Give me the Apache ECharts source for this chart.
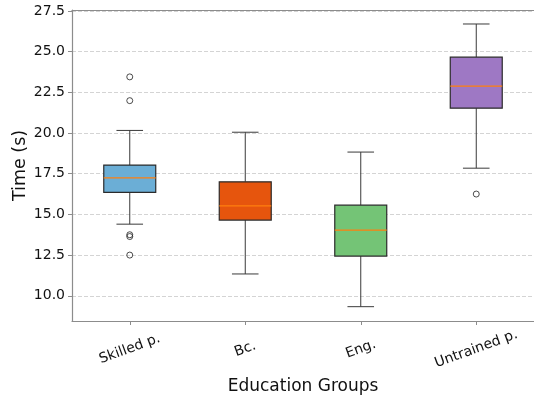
<!DOCTYPE html>
<html>
<head>
<meta charset="utf-8">
<script src="https://cdn.jsdelivr.net/npm/echarts@6/dist/echarts.min.js"></script>
<style>html,body{margin:0;padding:0;background:#fff}#c{width:534px;height:396px}</style>
</head>
<body>
<div id="c"></div>
<script>
const categories = ['Skilled p.', 'Bc.', 'Eng.', 'Untrained p.'];
const whiskerLow = [14.40, 11.34, 9.33, 17.84];
const q1 = [16.35, 14.65, 12.44, 21.53];
const median = [17.25, 15.53, 14.04, 22.88];
const q3 = [18.03, 17.00, 15.57, 24.66];
const whiskerHigh = [20.16, 20.05, 18.83, 26.70];
const outliers = [[0, 23.45], [0, 21.99], [0, 13.75], [0, 13.64], [0, 12.50], [3, 16.25]];
const yTicks = [10.0, 12.5, 15.0, 17.5, 20.0, 22.5, 25.0, 27.5];
const boxColors = ['#6baed6', '#e6550d', '#74c476', '#9e78c4'];

const boxData = categories.map((c, i) => [i, whiskerLow[i], q1[i], median[i], q3[i], whiskerHigh[i]]);
const FONT = 'DejaVu Sans';
const chart = echarts.init(document.getElementById('c'));
chart.setOption({
  animation: false,
  grid: { left: 72, right: 0, top: 10, bottom: 75, containLabel: false, outerBoundsMode: 'none' },
  xAxis: [{
    type: 'category', data: categories, position: 'bottom',
    axisLine: { show: true, lineStyle: { color: '#8c8c8c', width: 1.2 } },
    axisTick: { show: true, alignWithLabel: true, length: 4, lineStyle: { color: '#8c8c8c' } },
    axisLabel: { rotate: 20, align: 'center', verticalAlign: 'middle', margin: 28, fontFamily: FONT, fontSize: 14, color: '#111' },
    splitLine: { show: false },
    name: 'Education Groups', nameLocation: 'middle', nameGap: 66, nameMoveOverlap: false,
    nameTextStyle: { fontFamily: FONT, fontSize: 17, color: '#111', verticalAlign: 'middle' }
  }, {
    type: 'category', data: categories, position: 'top',
    axisLine: { show: true, lineStyle: { color: '#8c8c8c', width: 1.2 } },
    axisTick: { show: false }, axisLabel: { show: false }, splitLine: { show: false }
  }],
  yAxis: {
    type: 'value', min: 8.45, max: 27.56,
    axisLine: { show: true, lineStyle: { color: '#8c8c8c', width: 1.2 } },
    axisTick: { show: true, length: 4, customValues: yTicks, lineStyle: { color: '#8c8c8c' } },
    axisLabel: { customValues: yTicks, formatter: v => v.toFixed(1), margin: 7, fontFamily: FONT, fontSize: 14, color: '#111' },
    splitLine: { show: true, customValues: yTicks, lineStyle: { type: [4, 2], color: '#d4d4d4', width: 1 } },
    name: 'Time (s)', nameLocation: 'middle', nameGap: 52, nameMoveOverlap: false,
    nameTextStyle: { fontFamily: FONT, fontSize: 17.5, color: '#111', verticalAlign: 'middle' }
  },
  series: [{
    type: 'custom',
    data: boxData,
    renderItem: function (params, api) {
      const x = api.value(0);
      const lo = api.coord([x, api.value(1)]);
      const b1 = api.coord([x, api.value(2)]);
      const md = api.coord([x, api.value(3)]);
      const b3 = api.coord([x, api.value(4)]);
      const hi = api.coord([x, api.value(5)]);
      const band = api.size([1, 0])[0];
      const bw = band * 0.45, cw = band * 0.23;
      const cx = lo[0];
      const wStyle = { stroke: '#3a3a3a', lineWidth: 1 };
      return {
        type: 'group',
        children: [
          { type: 'line', shape: { x1: cx, y1: b3[1], x2: cx, y2: hi[1] }, style: wStyle },
          { type: 'line', shape: { x1: cx, y1: b1[1], x2: cx, y2: lo[1] }, style: wStyle },
          { type: 'line', shape: { x1: cx - cw / 2, y1: hi[1], x2: cx + cw / 2, y2: hi[1] }, style: wStyle },
          { type: 'line', shape: { x1: cx - cw / 2, y1: lo[1], x2: cx + cw / 2, y2: lo[1] }, style: wStyle },
          { type: 'rect', shape: { x: cx - bw / 2, y: b3[1], width: bw, height: b1[1] - b3[1] },
            style: { fill: boxColors[params.dataIndex], stroke: '#2b2b2b', lineWidth: 1.2 } },
          { type: 'line', shape: { x1: cx - bw / 2, y1: md[1], x2: cx + bw / 2, y2: md[1] }, style: { stroke: '#ff7f0e', lineWidth: 1.2 } }
        ]
      };
    },
    encode: { x: 0, y: [1, 2, 3, 4, 5] }
  }, {
    type: 'scatter',
    data: outliers,
    symbol: 'circle', symbolSize: 6,
    itemStyle: { color: 'rgba(0,0,0,0)', borderColor: '#222', borderWidth: 1 }
  }]
});
</script>
</body>
</html>
